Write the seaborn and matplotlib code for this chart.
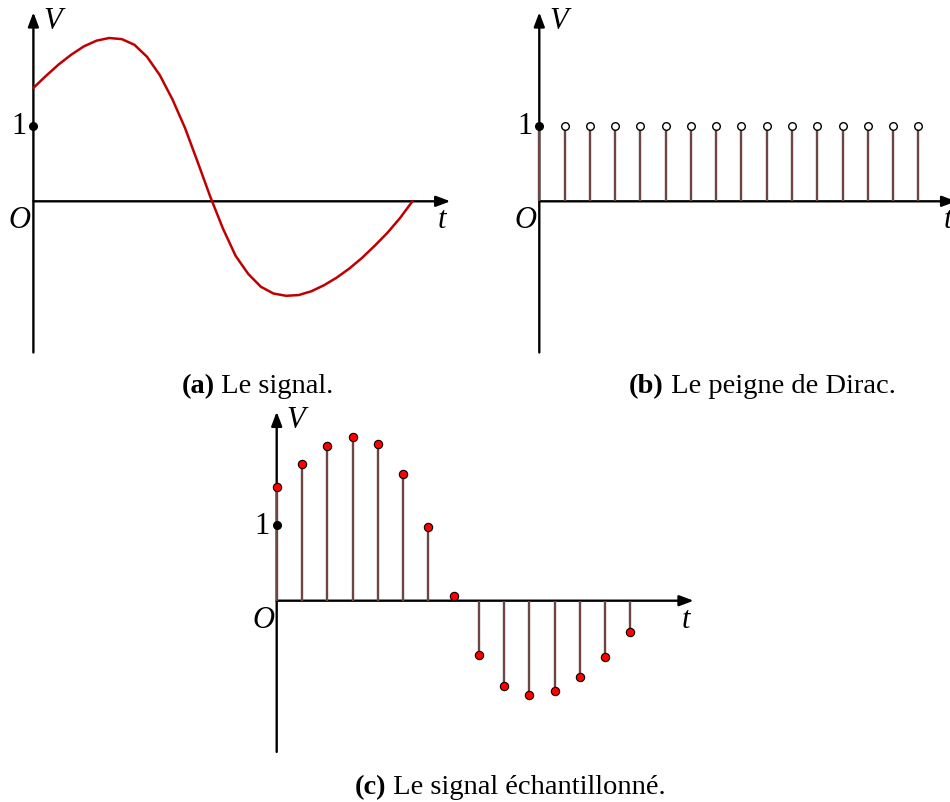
import matplotlib
matplotlib.use("Agg")
import matplotlib.pyplot as plt
import seaborn as sns

# Continuous signal V(t), read every half sampling period
t_signal = [0, 0.5, 1, 1.5, 2, 2.5, 3, 3.5, 4, 4.5, 5, 5.5, 6, 6.5, 7, 7.5,
            8, 8.5, 9, 9.5, 10, 10.5, 11, 11.5, 12, 12.5, 13, 13.5, 14, 14.5, 15]
v_signal = [1.50, 1.66, 1.81, 1.94, 2.05, 2.125, 2.16, 2.145, 2.07, 1.91, 1.67,
            1.35, 0.97, 0.52, 0.06, -0.36, -0.72, -0.96, -1.13, -1.22, -1.25,
            -1.24, -1.19, -1.11, -1.01, -0.89, -0.75, -0.59, -0.42, -0.225, 0.0]

# Sampled signal
t_samples = [0, 1, 2, 3, 4, 5, 6, 7, 8, 9, 10, 11, 12, 13, 14]
v_samples = [1.50, 1.81, 2.05, 2.16, 2.07, 1.67, 0.97, 0.06, -0.72, -1.13,
             -1.25, -1.19, -1.01, -0.75, -0.42]

# Dirac comb
t_comb = [0, 1, 2, 3, 4, 5, 6, 7, 8, 9, 10, 11, 12, 13, 14, 15]
v_comb = [1, 1, 1, 1, 1, 1, 1, 1, 1, 1, 1, 1, 1, 1, 1, 1]

captions = [("(a)", " Le signal."),
            ("(b)", " Le peigne de Dirac."),
            ("(c)", " Le signal échantillonné.")]

CURVE = "#c00000"
STEM = "#6e4543"
DOT = "#ff0000"

sns.set_style("white")
plt.rcParams["font.family"] = ["Liberation Serif", "DejaVu Serif"]
plt.rcParams["text.color"] = "black"

W, H = 950, 803
fig = plt.figure(figsize=(W / 100, H / 100), dpi=100)

SX, SY = 25.27, 75.6          # pixels per unit of t and of V
T0, T1, V0, V1 = -2.0, 17.5, -2.2, 2.7


def panel(ox, oy):
    left = (ox + T0 * SX) / W
    width = (T1 - T0) * SX / W
    top = (oy - V1 * SY) / H
    height = (V1 - V0) * SY / H
    ax = fig.add_axes([left, 1 - top - height, width, height])
    ax.set_xlim(T0, T1)
    ax.set_ylim(V0, V1)
    ax.axis("off")
    arrow = dict(arrowstyle="-|>,head_length=0.85,head_width=0.32",
                 lw=1.7, color="black", shrinkA=0, shrinkB=0,
                 mutation_scale=10)
    ax.annotate("", xy=(0, 2.5), xytext=(0, -2.0), arrowprops=arrow,
                annotation_clip=False, zorder=2)
    ax.annotate("", xy=(16.5, 0), xytext=(0, 0), arrowprops=arrow,
                annotation_clip=False, zorder=2)

    def label(txt, dx, dy, italic=True):
        ax.annotate(txt, xy=(0, 0), xytext=(dx * 0.72, -dy * 0.72),
                    textcoords="offset points", ha="center", va="center",
                    fontsize=22, color="black",
                    fontstyle="italic" if italic else "normal",
                    annotation_clip=False)

    label("V", 19, -181)
    label("1", -14.5, -75.5, italic=False)
    label("O", -13.5, 18.5)
    label("t", 409, 18.5)
    return ax


# (a) the signal
ax_a = panel(33.4, 202.3)
sns.lineplot(x=t_signal, y=v_signal, ax=ax_a, color=CURVE, lw=1.8,
             zorder=3, clip_on=False, solid_joinstyle="round",
             solid_capstyle="round")
ax_a.plot([0], [1], "o", color="black", ms=5.5, zorder=5, clip_on=False)

# (b) the Dirac comb
ax_b = panel(539.3, 202.3)
ax_b.vlines(t_comb, 0, v_comb, color=STEM, lw=1.7, zorder=3)
sns.scatterplot(x=t_comb[1:], y=v_comb[1:], ax=ax_b, s=30, color="white",
                edgecolor="black", linewidth=1.0, zorder=4, clip_on=False)
ax_b.plot([0], [1], "o", color="black", ms=5.5, zorder=5, clip_on=False)

# (c) the sampled signal
ax_c = panel(276.7, 601.7)
ax_c.vlines(t_samples, 0, v_samples, color=STEM, lw=1.7, zorder=3)
sns.scatterplot(x=t_samples, y=v_samples, ax=ax_c, s=36, color=DOT,
                edgecolor="black", linewidth=0.8, zorder=4, clip_on=False)
ax_c.plot([0], [1], "o", color="black", ms=5.5, zorder=5, clip_on=False)

# captions, centred under each panel
renderer = fig.canvas.get_renderer()
for (tag, rest), (cx, cy) in zip(captions, [(257.5, 387), (762.5, 387), (510, 788)]):
    t1 = fig.text(0, 0, tag, fontsize=20.5, fontweight="bold", va="center",
                  color="black")
    t2 = fig.text(0, 0, rest, fontsize=20.5, va="center", color="black")
    w1 = t1.get_window_extent(renderer).width
    w2 = t2.get_window_extent(renderer).width
    x0 = cx - (w1 + w2) / 2
    t1.set_position((x0 / W, 1 - cy / H))
    t2.set_position(((x0 + w1) / W, 1 - cy / H))

fig.savefig("out.png", dpi=100)
